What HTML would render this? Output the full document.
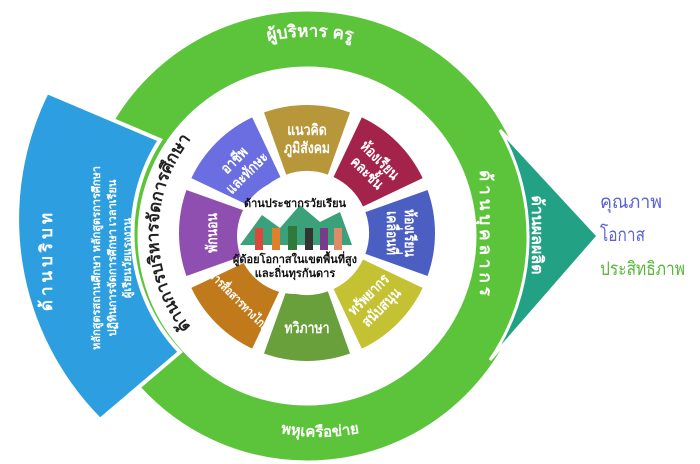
<!DOCTYPE html>
<html><head><meta charset="utf-8">
<style>
html,body{margin:0;padding:0;background:#fff;}
svg{display:block;}
text{font-family:"Liberation Sans","Noto Sans CJK SC",sans-serif;}
</style></head>
<body>
<svg id="s" width="700" height="464" viewBox="0 0 700 464" xmlns="http://www.w3.org/2000/svg">
<defs>
<path id="arcL" d="M 221 356 A 152 152 0 0 1 221 110" fill="none"/>
<path id="arcTop" d="M 200 70 A 198 198 0 0 1 420 70" fill="none"/>
<path id="arcBot" d="M 240 420 A 198 198 0 0 0 400 420" fill="none"/>
</defs>
<circle cx="307" cy="236" r="197" fill="none" stroke="#5cc43a" stroke-width="55"/>
<path d="M500 130 L598 236 L490 360 A 218 218 0 0 0 500 130 Z" fill="#22a184" stroke="#fff" stroke-width="3"/>
<path d="M47 92 L160 140 A 172 172 0 0 0 180 352 L100 420 A 285 285 0 0 1 47 92 Z" fill="#2d9fe0" stroke="#fff" stroke-width="4"/>
<g id="seg"></g>
<circle cx="295" cy="236" r="58" fill="#fff"/>
<path d="M240 245 L262 215 L280 228 L300 205 L320 222 L340 212 L352 245 Z" fill="#3aa17a"/>
<g fill="#d94a3a"><rect x="255" y="228" width="8" height="22"/><rect x="272" y="228" width="8" height="22" fill="#e0802a"/><rect x="288" y="226" width="9" height="24" fill="#2f7a3a"/><rect x="305" y="228" width="8" height="22" fill="#333"/><rect x="320" y="228" width="8" height="22" fill="#7a3a8a"/><rect x="334" y="228" width="8" height="22" fill="#e08a6a"/></g>
<text x="295" y="207" font-size="11" font-weight="bold" text-anchor="middle" fill="#111">ด้านประชากรวัยเรียน</text>
<text x="295" y="263" font-size="11" font-weight="bold" text-anchor="middle" fill="#111">ผู้ด้อยโอกาสในเขตพื้นที่สูง</text>
<text x="295" y="277" font-size="11" font-weight="bold" text-anchor="middle" fill="#111">และถิ่นทุรกันดาร</text>
<text font-size="17" font-weight="bold" fill="#222"><textPath href="#arcL" startOffset="50%" text-anchor="middle">ด้านการบริหารจัดการศึกษา</textPath></text>
<text font-size="17" font-weight="bold" fill="#fff"><textPath href="#arcTop" startOffset="50%" text-anchor="middle">ผู้บริหาร  ครู</textPath></text>
<text font-size="15" font-weight="bold" fill="#fff"><textPath href="#arcBot" startOffset="50%" text-anchor="middle">พหุเครือข่าย</textPath></text>
<text transform="translate(480,235) rotate(90)" font-size="17" font-weight="bold" fill="#fff" text-anchor="middle" letter-spacing="4">ด้านบุคลากร</text>
<text transform="translate(532,235) rotate(90)" font-size="16" font-weight="bold" fill="#fff" text-anchor="middle">ด้านผลผลิต</text>
<text transform="translate(52,260) rotate(-90)" font-size="17" font-weight="bold" fill="#fff" text-anchor="middle" letter-spacing="4">ด้านบริบท</text>
<text transform="translate(100,258) rotate(-90)" font-size="11" font-weight="bold" fill="#fff" text-anchor="middle">หลักสูตรสถานศึกษา หลักสูตรการศึกษา</text>
<text transform="translate(116,258) rotate(-90)" font-size="11" font-weight="bold" fill="#fff" text-anchor="middle">ปฏิทินการจัดการศึกษา เวลาเรียน</text>
<text transform="translate(131,258) rotate(-90)" font-size="11" font-weight="bold" fill="#fff" text-anchor="middle">ผู้เรียนวัยแรงงาน</text>
<text x="600" y="208" font-size="19" fill="#5a62d6" textLength="62" lengthAdjust="spacingAndGlyphs">คุณภาพ</text>
<text x="600" y="241" font-size="19" fill="#5a62d6" textLength="45" lengthAdjust="spacingAndGlyphs">โอกาส</text>
<text x="600" y="275" font-size="19" fill="#59b83a" textLength="85" lengthAdjust="spacingAndGlyphs">ประสิทธิภาพ</text>
</svg>
<script>
var cx=307,cy=233,R=128,r=60,g=document.getElementById('seg');
var data=[["#b8963a","แนวคิด","ภูมิสังคม"],["#a3234a","ห้องเรียน","คละชั้น"],["#4b5fc2","ห้องเรียน","เคลื่อนที่"],["#c4c233","ทรัพยากร","สนับสนุน"],["#6aa03c","ทวิภาษา",""],["#c07a1b","การสื่อสารทางไกล",""],["#8e4fb0","พักนอน",""],["#6a6ee0","อาชีพ","และทักษะ"]];
function p(a,rad){return [cx+rad*Math.cos(a),cy+rad*Math.sin(a)];}
var ns="http://www.w3.org/2000/svg";
data.forEach(function(d,i){
 var c=-Math.PI/2+i*Math.PI/4,h=Math.PI/8-0.05;
 var a1=c-h,a2=c+h,P1=p(a1,R),P2=p(a2,R),P3=p(a2,r+2),P4=p(a1,r+2);
 var el=document.createElementNS(ns,'path');
 el.setAttribute('d','M'+P1+' A'+R+' '+R+' 0 0 1 '+P2+' L'+P3+' A'+(r+2)+' '+(r+2)+' 0 0 0 '+P4+'Z');
 el.setAttribute('fill',d[0]);g.appendChild(el);
 var m=p(c,95),deg=c*180/Math.PI+90;
 if(i>=3&&i<=5)deg+=180;
 var t=document.createElementNS(ns,'text');
 t.setAttribute('transform','translate('+m[0]+','+m[1]+') rotate('+deg+') scale(0.82,1)');
 t.setAttribute('text-anchor','middle');t.setAttribute('fill','#fff');
 t.setAttribute('font-size',d[1].length>10?'12':'15');t.setAttribute('font-weight','bold');
 var s1=document.createElementNS(ns,'tspan');s1.setAttribute('x',0);s1.setAttribute('y',d[2]?-3:5);s1.textContent=d[1];t.appendChild(s1);
 if(d[2]){var s2=document.createElementNS(ns,'tspan');s2.setAttribute('x',0);s2.setAttribute('y',15);s2.textContent=d[2];t.appendChild(s2);}
 g.appendChild(t);
});
</script>
</body></html>
